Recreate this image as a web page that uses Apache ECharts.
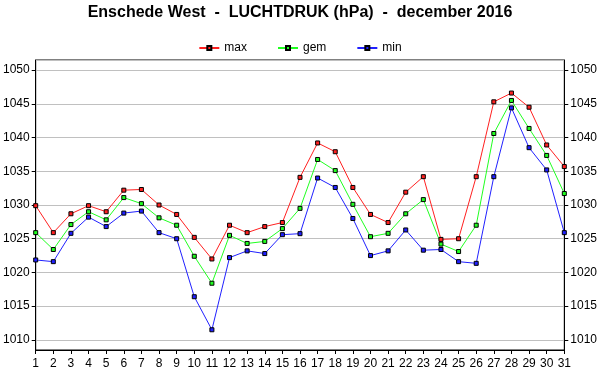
<!DOCTYPE html>
<html><head><meta charset="utf-8">
<script src="https://cdn.jsdelivr.net/npm/echarts@6/dist/echarts.min.js"></script>
<style>html,body{margin:0;padding:0;background:#fff}#c{width:600px;height:390px}</style>
</head><body><div id="c"></div>
<script>
const days = Array.from({length:31},(_,i)=>String(i+1));
const maxVals = [1029.9,1025.9,1028.7,1029.9,1029.0,1032.2,1032.3,1030.0,1028.6,1025.2,1022.0,1027.0,1025.9,1026.8,1027.4,1034.1,1039.2,1037.9,1032.6,1028.6,1027.4,1031.9,1034.2,1024.9,1025.0,1034.2,1045.3,1046.6,1044.5,1038.9,1035.7];
const gemVals = [1025.9,1023.4,1027.1,1029.0,1027.8,1031.1,1030.2,1028.1,1027.0,1022.4,1018.4,1025.5,1024.3,1024.6,1026.5,1029.5,1036.75,1035.1,1030.1,1025.3,1025.8,1028.7,1030.8,1024.2,1023.1,1027.0,1040.6,1045.5,1041.35,1037.35,1031.7];
const minVals = [1021.85,1021.6,1025.8,1028.2,1026.8,1028.8,1029.1,1025.9,1025.0,1016.4,1011.5,1022.2,1023.2,1022.8,1025.6,1025.75,1034.0,1032.6,1028.0,1022.5,1023.2,1026.3,1023.3,1023.4,1021.6,1021.35,1034.2,1044.4,1038.5,1035.2,1025.9];
const seriesNames = ['max','gem','min'];
const colors = ['#ff2020','#20ff20','#2020ff'];

const font = 'Liberation Sans, Arial, sans-serif';
const chart = echarts.init(document.getElementById('c'));
const yAx = (pos)=>({
  type:'value', position:pos, min:1008.5, max:1051.5, splitNumber:8,
  axisLine:{show:true,lineStyle:{color:'#000'}},
  axisTick:{show:true,length:4,lineStyle:{color:'#000'}},
  axisLabel:{color:'#000',fontSize:12,fontFamily:font,margin:6,showMinLabel:false,showMaxLabel:false,
    formatter:v=> (Math.abs(v%5)<1e-6 ? String(v) : '')},
  splitLine:{show:pos==='left',lineStyle:{color:'#c0c0c0'}}
});
chart.setOption({
  animation:false,
  backgroundColor:'#fff',
  title:{text:'Enschede West  -  LUCHTDRUK (hPa)  -  december 2016',left:'center',top:0,
    textStyle:{fontSize:16,fontWeight:'bold',fontFamily:font,color:'#000'}},
  legend:{top:37,left:'center',itemGap:30,itemWidth:20,itemHeight:5,
    textStyle:{fontSize:12,fontFamily:font,color:'#000'},data:seriesNames},
  grid:{left:35,right:35,top:60,bottom:40,show:true,borderColor:'#000',borderWidth:1,backgroundColor:'transparent'},
  xAxis:{type:'category',data:days,boundaryGap:false,
    axisLine:{lineStyle:{color:'#000'}},
    axisTick:{show:true,interval:0,length:4,lineStyle:{color:'#000'}},
    axisLabel:{interval:0,color:'#000',fontSize:12,fontFamily:font,margin:8},
    splitLine:{show:false}},
  yAxis:[yAx('left'),yAx('right')],
  series:[maxVals,gemVals,minVals].map((d,i)=>({
    name:seriesNames[i],type:'line',data:d,yAxisIndex:0,
    symbol:'rect',symbolSize:4,
    lineStyle:{color:colors[i],width:1},
    itemStyle:{color:colors[i],borderColor:'#000',borderWidth:1},
    z:10-i
  }))
});
</script></body></html>
